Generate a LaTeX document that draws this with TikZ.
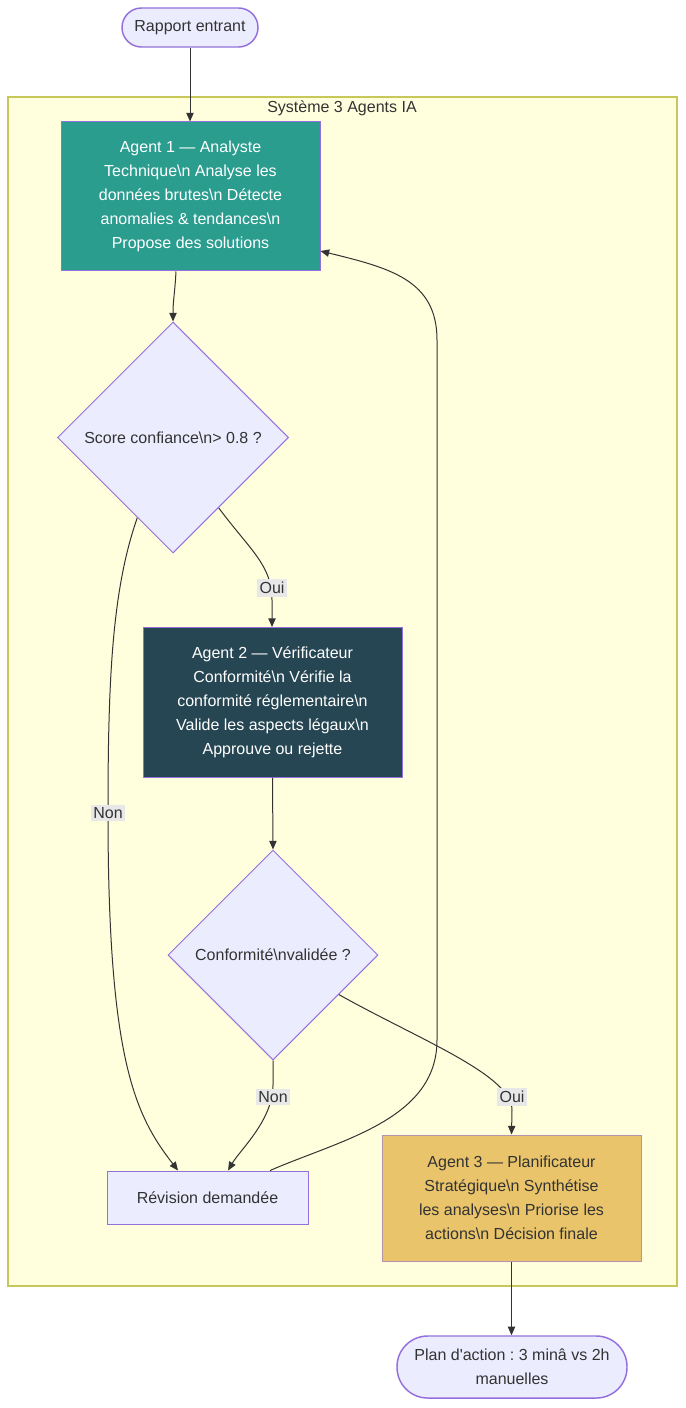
\documentclass[tikz,border=0pt]{standalone}
\usepackage{fontspec}
\setmainfont{Liberation Sans}
\usetikzlibrary{shapes.geometric,arrows.meta}
\definecolor{lav}{HTML}{ECECFF}
\definecolor{lavline}{HTML}{9370DB}
\definecolor{clfill}{HTML}{FFFFDE}
\definecolor{clline}{HTML}{C8C85A}
\definecolor{txt}{HTML}{333333}
\definecolor{aone}{HTML}{2A9D8F}
\definecolor{atwo}{HTML}{264653}
\definecolor{athree}{HTML}{E9C46A}
\definecolor{lblbg}{HTML}{E8E8E8}
\newcommand{\bsn}{\textbackslash n}
\frenchspacing
\begin{document}
\begin{tikzpicture}[x=0.75pt,y=-0.75pt,
  every node/.style={font=\fontsize{12}{18}\selectfont\frenchspacing, text=txt, align=center, inner sep=0pt},
  term/.style={draw=lavline, fill=lav, line width=1.1pt},
  agentbox/.style={draw=lavline, line width=0.75pt, minimum width=194.25pt},
  decis/.style={diamond, aspect=1, draw=lavline, fill=lav, line width=0.75pt},
  lbl/.style={fill=lblbg, inner sep=2pt},
  arr/.style={draw=txt, line width=0.75pt, -{Triangle[length=6.5pt,width=5.5pt]}},
  conn/.style={draw=txt, line width=0.75pt}]
\useasboundingbox (0,0) rectangle (685,1408);
\fill[white] (0,0) rectangle (685,1408);
% cluster
\draw[fill=clfill, draw=clline, line width=1pt] (8,97) rectangle (677,1286);
\node (ctitle) at (342,108) {Système 3 Agents IA};
% nodes
\node[term, rounded corners=14.6pt, minimum width=102pt, minimum height=29.25pt] (start) at (190,27.5) {Rapport entrant};
\node[agentbox, fill=aone, minimum height=111.75pt, text=white] (a1) at (190.5,196.5)
  {Agent 1 — Analyste\\Technique\bsn{} Analyse les\\données brutes\bsn{} Détecte\\anomalies \& tendances\bsn\\Propose des solutions};
\node[decis, minimum width=173.25pt, minimum height=173.25pt] (d1) at (173,437.5) {Score confiance\bsn{}> 0.8 ?};
\node[agentbox, fill=atwo, minimum height=112.5pt, text=white] (a2) at (272.5,702)
  {Agent 2 — Vérificateur\\Conformité\bsn{} Vérifie la\\conformité réglementaire\bsn\\Valide les aspects légaux\bsn\\Approuve ou rejette};
\node[decis, minimum width=157.5pt, minimum height=157.5pt] (d2) at (273,955) {Conformité\bsn{}validée ?};
\node[draw=lavline, fill=lav, line width=0.75pt, minimum width=150.75pt, minimum height=39.75pt] (rev) at (207.5,1197.5) {Révision demandée};
\node[agentbox, fill=athree, draw=lavline!60!athree, minimum height=94.5pt] (a3) at (511.5,1198)
  {Agent 3 — Planificateur\\Stratégique\bsn{} Synthétise\\les analyses\bsn{} Priorise les\\actions\bsn{} Décision finale};
\node[term, rounded corners=23pt, minimum width=172.5pt, minimum height=46.5pt] (fin) at (512,1367) {Plan d\textquotesingle action : 3 minâ vs 2h\\manuelles};
% edges
\draw[arr] (start.south) -- (start.south |- a1.north);
\draw[arr] ([xshift=-10.9pt]a1.south) .. controls (175,292) and (173,300) .. (d1.north);
\draw[arr] (d1.-57) .. controls (250,550) and (272,565) .. (272,600) -- (272,627);
\draw[arr] (d1.-114) .. controls (112,590) and (108,680) .. (108,813)
  .. controls (108,1060) and (135,1115) .. ([xshift=-22.1pt]rev.north);
\draw[arr] (a2.south) -- (d2.north);
\draw[arr] (d2.south) -- (273,1085) .. controls (273,1120) and (240,1150) .. ([xshift=15.4pt]rev.north);
\draw[arr] (d2.-31) .. controls (420,1040) and (512,1075) .. (512,1110) -- (a3.north);
\draw[arr] ([xshift=46.9pt]rev.north) .. controls (340,1140) and (437,1120) .. (437,1040)
  -- (437,340) .. controls (437,280) and (390,268) .. ([yshift=-40.9pt]a1.east);
\draw[arr] (a3.south) -- (a3.south |- fin.north);
% labels
\node[lbl] (l1) at (272,588) {Oui};
\node[lbl] (l2) at (108,813) {Non};
\node[lbl] (l3) at (273,1097) {Non};
\node[lbl] (l4) at (512,1097) {Oui};
\end{tikzpicture}
\end{document}
